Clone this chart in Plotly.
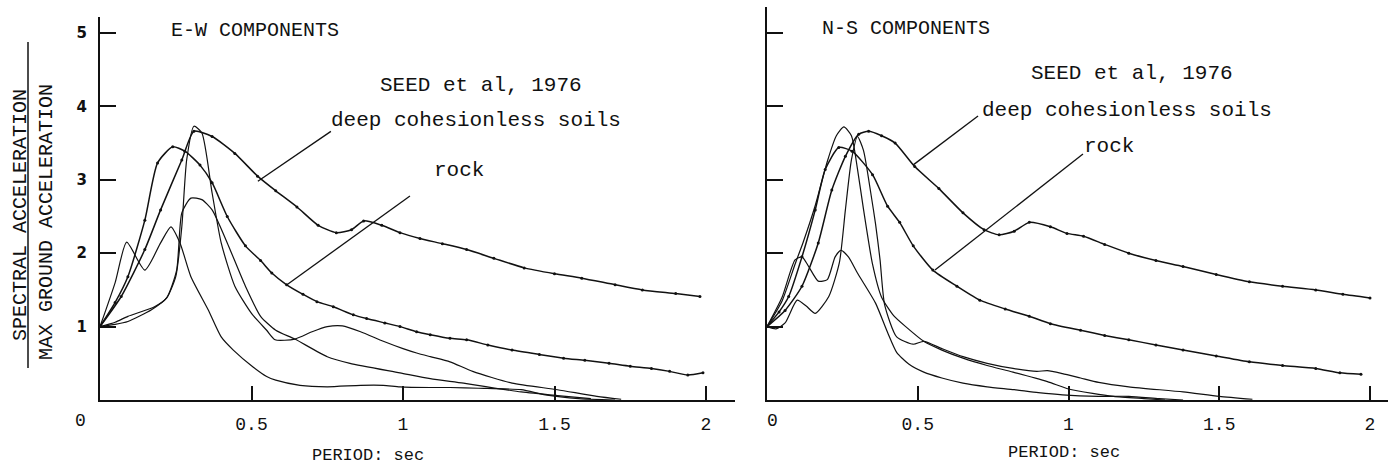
import plotly.graph_objects as go

W, H = 1388, 471

# ---------------- DATA ----------------
# E-W components (left panel)
ew_deep_x = [0, 0.07, 0.148, 0.2, 0.27, 0.31, 0.37, 0.445, 0.52, 0.58, 0.65, 0.72, 0.78, 0.83, 0.87, 0.93,
             0.99, 1.056, 1.13, 1.21, 1.30, 1.40, 1.5, 1.59, 1.7, 1.79, 1.9, 1.98]
ew_deep_y = [1.0, 1.41, 2.05, 2.59, 3.27, 3.66, 3.59, 3.36, 3.05, 2.85, 2.63, 2.38, 2.28, 2.32, 2.44, 2.38,
             2.28, 2.2, 2.13, 2.05, 1.93, 1.80, 1.72, 1.66, 1.57, 1.50, 1.45, 1.41]

ew_rock_x = [0, 0.05, 0.092, 0.148, 0.19, 0.24, 0.28, 0.33, 0.37, 0.42, 0.48, 0.53, 0.567, 0.616, 0.67,
             0.716, 0.77, 0.836, 0.88, 0.94, 0.99, 1.045, 1.09, 1.155, 1.21, 1.28, 1.36, 1.45, 1.53, 1.6,
             1.68, 1.75, 1.82, 1.88, 1.94, 1.99]
ew_rock_y = [1.0, 1.33, 1.68, 2.45, 3.23, 3.45, 3.39, 3.2, 2.96, 2.5, 2.1, 1.9, 1.73, 1.57, 1.44,
             1.34, 1.27, 1.16, 1.11, 1.05, 1.0, 0.93, 0.89, 0.84, 0.82, 0.75, 0.68, 0.62, 0.57, 0.54,
             0.5, 0.46, 0.43, 0.39, 0.34, 0.37]

ew_a_x = [0, 0.05, 0.092, 0.18, 0.22, 0.25, 0.27, 0.286, 0.31, 0.336, 0.37, 0.40, 0.445, 0.50, 0.55,
          0.578, 0.643, 0.70, 0.75, 0.80, 0.86, 0.935, 1.0, 1.045, 1.09, 1.155, 1.23, 1.36, 1.51, 1.64, 1.72]
ew_a_y = [1.0, 1.06, 1.14, 1.27, 1.39, 1.68, 2.36, 3.27, 3.73, 3.64, 2.82, 2.14, 1.55, 1.18, 0.95,
          0.82, 0.83, 0.93, 1.0, 1.01, 0.93, 0.8, 0.7, 0.64, 0.59, 0.52, 0.39, 0.23, 0.14, 0.05, 0.01]

ew_b_x = [0, 0.05, 0.092, 0.17, 0.22, 0.253, 0.27, 0.30, 0.336, 0.37, 0.42, 0.48, 0.53, 0.58, 0.643,
          0.75, 0.825, 0.99, 1.09, 1.2, 1.39, 1.51, 1.62]
ew_b_y = [1.0, 1.03, 1.07, 1.23, 1.39, 1.77, 2.55, 2.75, 2.73, 2.59, 2.14, 1.55, 1.14, 0.95, 0.83,
          0.59, 0.5, 0.37, 0.29, 0.23, 0.11, 0.06, 0.02]

ew_c_x = [0, 0.05, 0.088, 0.148, 0.2, 0.234, 0.264, 0.30, 0.357, 0.40, 0.44, 0.505, 0.55, 0.58, 0.66,
          0.75, 0.86, 0.935, 0.99, 1.09, 1.155, 1.25, 1.39, 1.47, 1.58, 1.7]
ew_c_y = [1.0, 1.6, 2.15, 1.77, 2.14, 2.36, 2.14, 1.68, 1.23, 0.86, 0.68, 0.45, 0.32, 0.27, 0.2,
          0.18, 0.2, 0.2, 0.18, 0.17, 0.17, 0.16, 0.14, 0.07, 0.02, 0.0]

# N-S components (right panel)
ns_deep_x = [0, 0.06, 0.116, 0.17, 0.215, 0.26, 0.304, 0.337, 0.38, 0.425, 0.49, 0.57, 0.65, 0.72, 0.77,
             0.82, 0.87, 0.94, 0.995, 1.05, 1.12, 1.2, 1.29, 1.38, 1.49, 1.6, 1.71, 1.82, 1.91, 2.0]
ns_deep_y = [1.0, 1.22, 1.55, 2.14, 2.86, 3.32, 3.62, 3.66, 3.6, 3.5, 3.18, 2.88, 2.55, 2.32, 2.25,
             2.3, 2.42, 2.36, 2.27, 2.23, 2.12, 2.0, 1.9, 1.82, 1.71, 1.61, 1.55, 1.5, 1.44, 1.39]

ns_rock_x = [0, 0.04, 0.072, 0.116, 0.16, 0.193, 0.238, 0.282, 0.35, 0.40, 0.44, 0.485, 0.55, 0.63,
             0.706, 0.79, 0.87, 0.94, 1.04, 1.12, 1.2, 1.29, 1.38, 1.49, 1.6, 1.71, 1.82, 1.9, 1.97]
ns_rock_y = [1.0, 1.2, 1.41, 1.95, 2.59, 3.14, 3.44, 3.39, 3.07, 2.64, 2.42, 2.1, 1.77, 1.55,
             1.36, 1.24, 1.14, 1.04, 0.95, 0.88, 0.82, 0.75, 0.68, 0.6, 0.52, 0.47, 0.43, 0.37, 0.35]

ns_d_x = [0, 0.05, 0.093, 0.12, 0.16, 0.2, 0.23, 0.255, 0.28, 0.3, 0.32, 0.35, 0.38, 0.42, 0.46, 0.52,
          0.58, 0.65, 0.73, 0.816, 0.93, 1.0, 1.08, 1.15, 1.25, 1.32]
ns_d_y = [1.0, 1.35, 1.85, 2.15, 2.65, 3.25, 3.6, 3.72, 3.6, 3.15, 2.6, 1.85, 1.4, 1.15, 1.0, 0.8,
          0.68, 0.57, 0.47, 0.38, 0.25, 0.15, 0.09, 0.05, 0.02, 0.0]

ns_g_x = [0, 0.03, 0.06, 0.1, 0.13, 0.16, 0.205, 0.24, 0.26, 0.28, 0.3, 0.32, 0.345, 0.36, 0.375, 0.39,
          0.43, 0.485, 0.52, 0.58, 0.65, 0.73, 0.816, 0.895, 0.93, 0.98, 1.04, 1.1, 1.2, 1.38, 1.5, 1.61]
ns_g_y = [1.0, 0.97, 1.05, 1.36, 1.28, 1.18, 1.41, 1.87, 2.59, 3.27, 3.59, 3.4, 2.8, 2.4, 1.91, 1.3,
          0.86, 0.76, 0.8, 0.7, 0.59, 0.5, 0.43, 0.39, 0.4, 0.36, 0.3, 0.24, 0.18, 0.11, 0.05, 0.01]

ns_e_x = [0, 0.05, 0.093, 0.116, 0.138, 0.17, 0.2, 0.226, 0.245, 0.27, 0.30, 0.36, 0.40, 0.43, 0.47,
          0.52, 0.58, 0.65, 0.73, 0.82, 0.9, 0.98, 1.1, 1.2, 1.3, 1.38]
ns_e_y = [1.0, 1.4, 1.91, 1.95, 1.82, 1.62, 1.64, 1.95, 2.04, 1.95, 1.73, 1.32, 0.92, 0.65, 0.49,
          0.38, 0.3, 0.23, 0.18, 0.14, 0.1, 0.07, 0.05, 0.05, 0.02, 0.0]

x_tick_vals = [0.5, 1, 1.5, 2]
x_tick_text = ["0.5", "1", "1.5", "2"]
y_tick_vals = [1, 2, 3, 4, 5]
y_tick_text = ["1", "2", "3", "4", "5"]

panel_titles = ["E-W COMPONENTS", "N-S COMPONENTS"]
source_label = "SEED et al, 1976"
deep_label = "deep cohesionless soils"
rock_label = "rock"
x_title = "PERIOD: sec"
y_title_top = "SPECTRAL ACCELERATION"
y_title_bottom = "MAX GROUND ACCELERATION"

# ---------------- FIGURE ----------------
INK = "#111111"
fig = go.Figure()


def add(x, y, xa, ya, dotted):
    if dotted:
        fig.add_trace(go.Scatter(x=x, y=y, xaxis=xa, yaxis=ya, mode="lines+markers",
                                 line=dict(color=INK, width=1.5, shape="spline", smoothing=0.6),
                                 marker=dict(size=3, color=INK),
                                 showlegend=False, hoverinfo="skip"))
    else:
        fig.add_trace(go.Scatter(x=x, y=y, xaxis=xa, yaxis=ya, mode="lines",
                                 line=dict(color=INK, width=1.2, shape="spline", smoothing=0.6),
                                 showlegend=False, hoverinfo="skip"))


add(ew_deep_x, ew_deep_y, "x", "y", True)
add(ew_rock_x, ew_rock_y, "x", "y", True)
add(ew_a_x, ew_a_y, "x", "y", False)
add(ew_b_x, ew_b_y, "x", "y", False)
add(ew_c_x, ew_c_y, "x", "y", False)

add(ns_deep_x, ns_deep_y, "x2", "y2", True)
add(ns_rock_x, ns_rock_y, "x2", "y2", True)
add(ns_d_x, ns_d_y, "x2", "y2", False)
add(ns_g_x, ns_g_y, "x2", "y2", False)
add(ns_e_x, ns_e_y, "x2", "y2", False)

# pixel geometry
L_X0, L_X1, L_SX = 100, 735, 303.0
R_X0, R_X1, R_SX = 767, W, 301.5
BASE, SY = 400, 73.4


def px(xp):
    return xp / W


def py(yp):
    return 1 - yp / H


mono = "Liberation Mono, Courier New, monospace"
common_x = dict(showline=True, linewidth=2, linecolor=INK, showgrid=False, zeroline=False,
                ticks="inside", ticklen=14, tickwidth=1.5, tickcolor=INK,
                tickvals=x_tick_vals, ticktext=x_tick_text,
                tickfont=dict(family=mono, size=18, color=INK), ticklabelstandoff=6)
common_y = dict(showline=True, linewidth=2, linecolor=INK, showgrid=False, zeroline=False,
                ticks="inside", ticklen=16, tickwidth=1.5, tickcolor=INK,
                tickvals=y_tick_vals, ticktext=y_tick_text,
                tickfont=dict(family="DejaVu Sans, sans-serif", size=15, color=INK, weight="bold"),
                ticklabelstandoff=8)

fig.update_layout(
    width=W, height=H, autosize=False,
    margin=dict(l=0, r=0, t=0, b=0),
    paper_bgcolor="white", plot_bgcolor="white",
    xaxis=dict(domain=[px(L_X0), px(L_X1)], range=[0, (L_X1 - L_X0) / L_SX], anchor="y", **common_x),
    yaxis=dict(domain=[py(BASE), py(17)], range=[0, (BASE - 17) / SY], anchor="x", **common_y),
    xaxis2=dict(domain=[px(R_X0), 1.0], range=[0, (R_X1 - R_X0) / R_SX], anchor="y2", **common_x),
    yaxis2=dict(domain=[py(BASE), py(7)], range=[0, (BASE - 7) / SY], anchor="x2",
                showticklabels=False, **{k: v for k, v in common_y.items() if k not in ("tickfont",)}),
)

ann = []


def txt(t, xpix, ypix, size=20, angle=0, family=mono):
    ann.append(dict(text=t, x=px(xpix), y=py(ypix), xref="paper", yref="paper",
                    showarrow=False, xanchor="center", yanchor="middle", textangle=angle,
                    font=dict(family=family, size=size, color=INK)))


# left panel texts
txt(panel_titles[0], 255, 31, size=20)
txt(source_label, 481, 86, size=21)
txt(deep_label, 476, 121, size=21)
txt(rock_label, 459, 171, size=21)
# right panel texts
txt(panel_titles[1], 906, 29, size=20)
txt(source_label, 1132, 74, size=21)
txt(deep_label, 1127, 111, size=21)
txt(rock_label, 1109, 147, size=21)
# origin labels
txt("0", 80, 421, size=18)
txt("0", 772, 421, size=18)
# x titles
txt(x_title, 368, 455, size=17)
txt(x_title, 1064, 452, size=17)
# y title (fraction)
txt(y_title_top, 20, 215, size=20, angle=-90)
txt(y_title_bottom, 46, 222, size=20, angle=-90)

fig.update_layout(annotations=ann)

shapes = [
    # fraction rule of the y title
    dict(type="line", xref="paper", yref="paper", x0=px(28), x1=px(28), y0=py(42), y1=py(368),
         line=dict(color=INK, width=1.5)),
    # leader lines, left panel
    dict(type="line", xref="x", yref="y", x0=0.762, y0=3.66, x1=0.521, y1=2.98, line=dict(color=INK, width=1.3)),
    dict(type="line", xref="x", yref="y", x0=1.023, y0=2.78, x1=0.617, y1=1.57, line=dict(color=INK, width=1.3)),
    # leader lines, right panel
    dict(type="line", xref="x2", yref="y2", x0=0.70, y0=3.87, x1=0.484, y1=3.20, line=dict(color=INK, width=1.3)),
    dict(type="line", xref="x2", yref="y2", x0=1.048, y0=3.35, x1=0.557, y1=1.77, line=dict(color=INK, width=1.3)),
]
fig.update_layout(shapes=shapes)

fig.write_html("out.html", config={"displayModeBar": False},
               post_script="document.body.style.margin='0';document.body.style.padding='0';")
